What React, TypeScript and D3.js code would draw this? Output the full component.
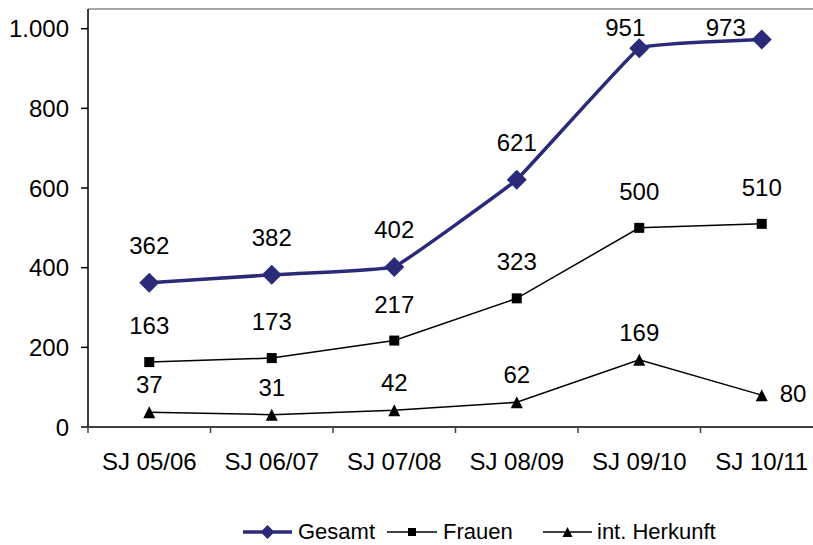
import React from "react";
import * as d3 from "d3";

const categories = ["SJ 05/06", "SJ 06/07", "SJ 07/08", "SJ 08/09", "SJ 09/10", "SJ 10/11"];
const gesamt = [362, 382, 402, 621, 951, 973];
const frauen = [163, 173, 217, 323, 500, 510];
const herkunft = [37, 31, 42, 62, 169, 80];
const yTicks = [0, 200, 400, 600, 800, 1000];
const seriesNames = ["Gesamt", "Frauen", "int. Herkunft"];

const W = 813;
const H = 545;
const NAVY = "#2A2A78";
const FONT = "Liberation Sans, Arial, sans-serif";
const FS = 24;
// horizontal label nudges for the Gesamt labels pushed against the top of the plot
const gesamtLabelDx = [0, 0, 0, 0, -14, -36];

export default function App() {
  const x = d3.scaleBand<string>().domain(categories).range([88, 823]);
  const y = d3.scaleLinear().domain([0, 1000]).range([427, 28.7]);
  const cx = (c: string) => (x(c) as number) + x.bandwidth() / 2;
  const fmt = (v: number) => d3.format(",")(v).replace(/,/g, ".");

  const smooth = d3
    .line<number>()
    .x((_, i) => cx(categories[i]))
    .y((d) => y(d))
    .curve(d3.curveCardinal.tension(0.8));
  const straight = d3
    .line<number>()
    .x((_, i) => cx(categories[i]))
    .y((d) => y(d));

  const diamond = (px: number, py: number, r: number) =>
    `M${px},${py - r}L${px + r},${py}L${px},${py + r}L${px - r},${py}Z`;
  const triangle = (px: number, py: number, s: number) =>
    `M${px},${py - s / 2}L${px + s / 2},${py + s / 2}L${px - s / 2},${py + s / 2}Z`;

  const boundaries = categories.map((c) => x(c) as number).concat([823]);

  return (
    <svg width={W} height={H} style={{ position: "absolute", left: 0, top: 0, background: "#fff" }} fontFamily={FONT}>
      {/* plot border top */}
      <line x1={88} x2={W} y1={9} y2={9} stroke="#8a8a8a" strokeWidth={1.5} />
      {/* y axis */}
      <line x1={88} x2={88} y1={9} y2={427} stroke="#000" strokeWidth={1.5} />
      {yTicks.map((t) => (
        <g key={t}>
          <line x1={81} x2={88} y1={y(t)} y2={y(t)} stroke="#000" strokeWidth={1.5} />
          <text x={69} y={y(t) + 8.5} textAnchor="end" fontSize={FS} fill="#000">
            {fmt(t)}
          </text>
        </g>
      ))}
      {/* x axis */}
      <line x1={88} x2={W} y1={427} y2={427} stroke="#404040" strokeWidth={2} />
      {boundaries.map((b, i) => (
        <line key={i} x1={b} x2={b} y1={427} y2={433} stroke="#404040" strokeWidth={1.5} />
      ))}
      {categories.map((c) => (
        <text key={c} x={cx(c)} y={470} textAnchor="middle" fontSize={FS} fill="#000">
          {c}
        </text>
      ))}

      {/* int. Herkunft */}
      <path d={straight(herkunft) as string} fill="none" stroke="#000" strokeWidth={1.5} />
      {herkunft.map((v, i) => (
        <path key={i} d={triangle(cx(categories[i]), y(v), 12)} fill="#000" />
      ))}
      {herkunft.map((v, i) =>
        i === herkunft.length - 1 ? (
          <text key={i} x={cx(categories[i]) + 18} y={y(v) + 7} textAnchor="start" fontSize={FS}>
            {v}
          </text>
        ) : (
          <text key={i} x={cx(categories[i])} y={y(v) - 19} textAnchor="middle" fontSize={FS}>
            {v}
          </text>
        )
      )}

      {/* Frauen */}
      <path d={straight(frauen) as string} fill="none" stroke="#000" strokeWidth={1.5} />
      {frauen.map((v, i) => (
        <rect key={i} x={cx(categories[i]) - 5} y={y(v) - 5} width={10} height={10} fill="#000" />
      ))}
      {frauen.map((v, i) => (
        <text key={i} x={cx(categories[i])} y={y(v) - 28} textAnchor="middle" fontSize={FS}>
          {v}
        </text>
      ))}

      {/* Gesamt */}
      <path d={smooth(gesamt) as string} fill="none" stroke={NAVY} strokeWidth={3.5} />
      {gesamt.map((v, i) => (
        <path key={i} d={diamond(cx(categories[i]), y(v), 10)} fill={NAVY} />
      ))}
      {gesamt.map((v, i) => (
        <text
          key={i}
          x={cx(categories[i]) + gesamtLabelDx[i]}
          y={Math.max(36, y(v) - 29)}
          textAnchor="middle"
          fontSize={FS}
        >
          {v}
        </text>
      ))}

      {/* legend */}
      <g>
        <line x1={243} x2={292} y1={532} y2={532} stroke={NAVY} strokeWidth={3.5} />
        <path d={diamond(267.5, 532, 7)} fill={NAVY} />
        <text x={298} y={539} fontSize={22}>{seriesNames[0]}</text>
        <line x1={387} x2={437} y1={532} y2={532} stroke="#000" strokeWidth={1.5} />
        <rect x={408} y={528} width={8} height={8} fill="#000" />
        <text x={443} y={539} fontSize={22}>{seriesNames[1]}</text>
        <line x1={543} x2={592} y1={532} y2={532} stroke="#000" strokeWidth={1.5} />
        <path d={triangle(567.5, 532, 10)} fill="#000" />
        <text x={597} y={539} fontSize={22}>{seriesNames[2]}</text>
      </g>
    </svg>
  );
}
